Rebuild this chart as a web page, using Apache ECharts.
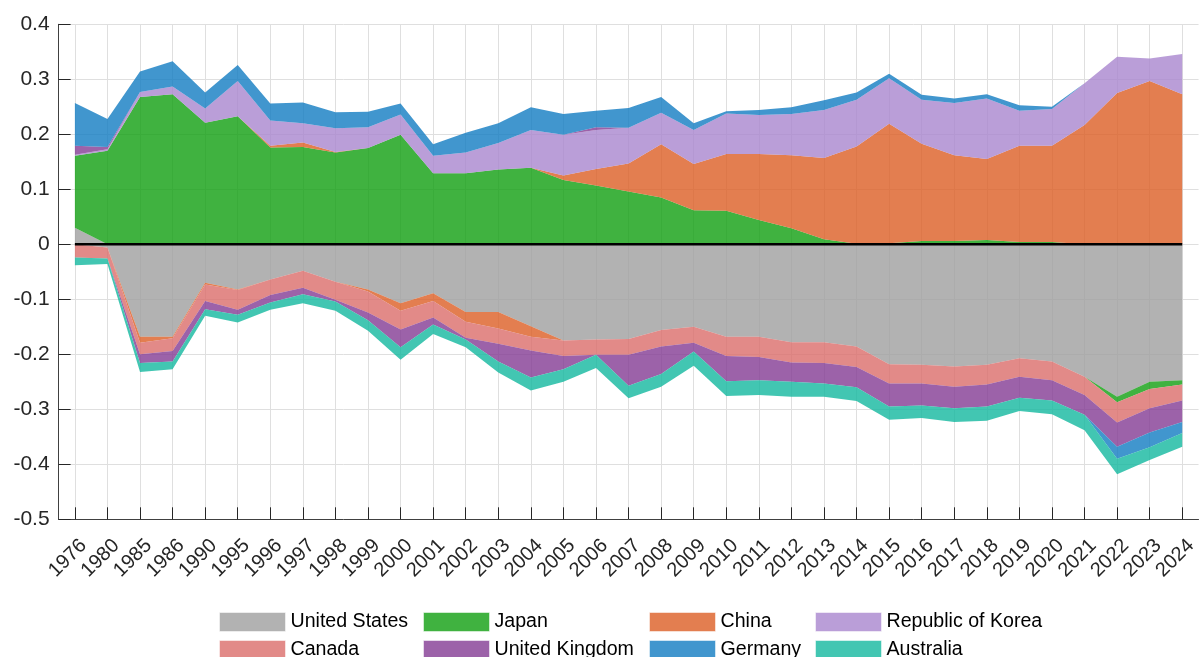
<!DOCTYPE html>
<html>
<head>
<meta charset="utf-8">
<script src="https://cdn.jsdelivr.net/npm/echarts@6/dist/echarts.min.js"></script>
<style>
  html, body { margin: 0; padding: 0; background: #fff; }
  #chart { width: 1200px; height: 657px; }
</style>
</head>
<body>
<div id="chart"></div>
<script>
// ---- Data ----
const years = ['1976','1980','1985','1986','1990','1995','1996','1997','1998','1999',
  '2000','2001','2002','2003','2004','2005','2006','2007','2008','2009',
  '2010','2011','2012','2013','2014','2015','2016','2017','2018','2019',
  '2020','2021','2022','2023','2024'];

const unitedStates = [0.030,-0.006,-0.168,-0.168,-0.070,-0.082,-0.064,-0.048,-0.068,-0.082,
  -0.107,-0.089,-0.123,-0.123,-0.149,-0.175,-0.173,-0.172,-0.156,-0.150,
  -0.168,-0.168,-0.178,-0.178,-0.186,-0.218,-0.219,-0.222,-0.219,-0.207,
  -0.213,-0.241,-0.277,-0.250,-0.247];
const japan = [0.131,0.170,0.268,0.273,0.221,0.233,0.176,0.177,0.167,0.175,
  0.199,0.129,0.129,0.136,0.139,0.117,0.107,0.096,0.085,0.062,
  0.061,0.044,0.029,0.009,0.001,0.002,0.006,0.006,0.008,0.004,
  0.004,0.000,-0.010,-0.013,-0.008];
const china = [0.000,0.000,-0.011,-0.003,-0.003,-0.001,0.003,0.008,0.001,-0.004,
  -0.014,-0.014,-0.018,-0.030,-0.019,0.008,0.030,0.051,0.097,0.084,
  0.103,0.120,0.133,0.148,0.177,0.217,0.177,0.156,0.147,0.175,
  0.175,0.217,0.275,0.297,0.273];
const korea = [0.002,0.003,0.009,0.014,0.026,0.064,0.046,0.035,0.043,0.038,
  0.037,0.032,0.038,0.048,0.069,0.074,0.071,0.065,0.057,0.062,
  0.074,0.071,0.075,0.087,0.085,0.083,0.080,0.095,0.110,0.064,
  0.067,0.076,0.066,0.041,0.073];
const canada = [-0.024,-0.020,-0.021,-0.023,-0.030,-0.036,-0.028,-0.031,-0.033,-0.038,
  -0.034,-0.030,-0.029,-0.028,-0.025,-0.028,-0.028,-0.029,-0.030,-0.029,
  -0.035,-0.037,-0.037,-0.038,-0.037,-0.035,-0.034,-0.037,-0.036,-0.034,
  -0.034,-0.033,-0.037,-0.035,-0.029];
const unitedKingdom = [0.016,0.004,-0.016,-0.019,-0.015,-0.009,-0.014,-0.012,-0.003,-0.014,
  -0.032,-0.013,-0.003,-0.032,-0.049,-0.024,0.005,-0.056,-0.050,-0.016,
  -0.046,-0.042,-0.035,-0.037,-0.037,-0.042,-0.040,-0.039,-0.040,-0.038,
  -0.037,-0.036,-0.044,-0.044,-0.039];
const germany = [0.078,0.051,0.037,0.046,0.029,0.029,0.031,0.038,0.029,0.028,
  0.020,0.021,0.036,0.036,0.041,0.038,0.030,0.036,0.029,0.012,
  0.004,0.009,0.012,0.018,0.013,0.008,0.009,0.008,0.008,0.010,
  0.004,0.000,-0.022,-0.027,-0.020];
const australia = [-0.014,-0.010,-0.016,-0.014,-0.012,-0.014,-0.013,-0.016,-0.017,-0.019,
  -0.023,-0.017,-0.014,-0.020,-0.024,-0.023,-0.024,-0.023,-0.023,-0.026,
  -0.027,-0.027,-0.027,-0.024,-0.025,-0.024,-0.023,-0.025,-0.026,-0.024,
  -0.025,-0.028,-0.028,-0.023,-0.025];

const seriesNames = ['United States','Japan','China','Republic of Korea','Canada','United Kingdom','Germany','Australia'];
const seriesValues = [unitedStates, japan, china, korea, canada, unitedKingdom, germany, australia];

// ---- Styles ----
const fillColors = ['#9f9f9f','#109f10','#dc5e24','#a986ce','#db6d6a','#833b94','#127cc2','#13b89f'];
const swatchColors = ['#b2b2b2','#40b240','#e37e50','#ba9ed8','#e28a88','#9c62a9','#4196ce','#42c6b2'];
const legendColumns = [['United States','Canada'],['Japan','United Kingdom'],['China','Germany'],['Republic of Korea','Australia']];
const legendLefts = [219, 423, 649, 815];
const FONT = '"Liberation Sans", Arial, Helvetica, sans-serif';

const posPart = v => v.map(x => (x > 0 ? x : 0));
const negPart = v => v.map(x => (x < 0 ? x : 0));

const series = [];
seriesNames.forEach((name, i) => {
  [['pos', posPart(seriesValues[i])], ['neg', negPart(seriesValues[i])]].forEach(([stack, data]) => {
    series.push({
      name: name,
      type: 'line',
      stack: stack,
      stackStrategy: 'all',
      data: data,
      symbol: 'none',
      silent: true,
      lineStyle: { width: 0, opacity: 0 },
      itemStyle: { color: swatchColors[i] },
      areaStyle: { color: fillColors[i], opacity: 0.8 },
      emphasis: { disabled: true },
      animation: false
    });
  });
});
// zero reference line
series.push({
  name: 'zero',
  type: 'line',
  data: years.map(() => 0),
  symbol: 'none',
  silent: true,
  z: 10,
  lineStyle: { color: '#000', width: 2.6 },
  animation: false
});

const colorOf = n => swatchColors[seriesNames.indexOf(n)];

const option = {
  backgroundColor: '#fff',
  animation: false,
  grid: { left: 58.6, top: 24.3, width: 1145.9, height: 495, containLabel: false },
  legend: legendColumns.map((names, c) => ({
    left: legendLefts[c],
    top: 612,
    height: 80,
    orient: 'vertical',
    padding: 0,
    itemWidth: 66,
    itemHeight: 19,
    itemGap: 8,
    selectedMode: false,
    textStyle: { fontSize: 19.6, color: '#000', fontFamily: FONT },
    data: names.map(n => ({
      name: n,
      icon: 'rect',
      itemStyle: { color: colorOf(n), borderColor: 'rgba(255,255,255,0.5)', borderWidth: 1 }
    }))
  })),
  xAxis: {
    type: 'category',
    data: years,
    boundaryGap: true,
    axisLine: { show: true, onZero: false, lineStyle: { color: '#404040', width: 1 } },
    axisTick: { show: true, inside: true, alignWithLabel: true, length: 12, lineStyle: { color: '#262626' } },
    axisLabel: { rotate: 45, fontSize: 20, color: '#262626', fontFamily: FONT, margin: 46, interval: 0,
      align: 'center', verticalAlign: 'bottom' },
    splitLine: { show: true, alignWithLabel: true, interval: 0, lineStyle: { color: '#dfdfdf', width: 1 } }
  },
  yAxis: {
    type: 'value',
    min: -0.5,
    max: 0.4,
    interval: 0.1,
    axisLine: { show: true, lineStyle: { color: '#404040', width: 1 } },
    axisTick: { show: true, inside: true, length: 12, lineStyle: { color: '#262626' } },
    axisLabel: { fontSize: 21, color: '#262626', fontFamily: FONT, margin: 9,
      formatter: v => String(+v.toFixed(1)) },
    splitLine: { show: true, lineStyle: { color: '#dfdfdf', width: 1 } }
  },
  series: series
};

const chart = echarts.init(document.getElementById('chart'), null, { renderer: 'canvas' });
chart.setOption(option);
</script>
</body>
</html>
